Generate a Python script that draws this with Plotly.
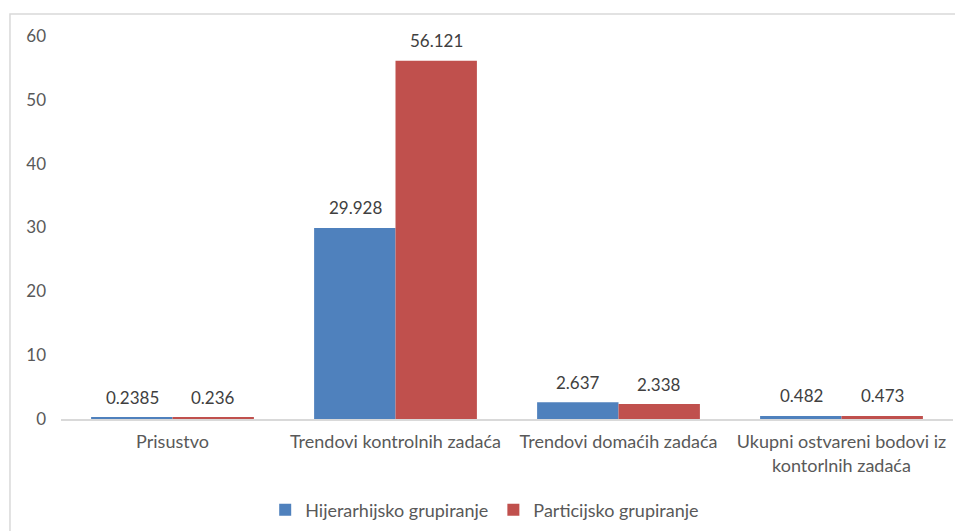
import plotly.graph_objects as go

# ── Data ───────────────────────────────────────────────────────────────────────
categories = [
    "Prisustvo",
    "Trendovi kontrolnih zadaća",
    "Trendovi domaćih zadaća",
    "Ukupni ostvareni bodovi iz<br>kontorlnih zadaća",
]
hijerarhijsko = [0.2385, 29.928, 2.637, 0.482]
particijsko = [0.236, 56.121, 2.338, 0.473]
series_names = ["Hijerarhijsko grupiranje", "Particijsko grupiranje"]
y_ticks = [0, 10, 20, 30, 40, 50, 60]

# ── Theme ──────────────────────────────────────────────────────────────────────
BLUE = "#4F81BD"
RED = "#C0504D"
TEXT = "#595959"
LABEL = "#404040"
FRAME = "#D9D9D9"
FONT = "Lato, Open Sans, sans-serif"

fig = go.Figure()
for i, (name, vals, col) in enumerate([(series_names[0], hijerarhijsko, BLUE),
                                       (series_names[1], particijsko, RED)]):
    fig.add_trace(go.Bar(
        x=categories, y=vals, name=name,
        marker=dict(color=col, line=dict(width=0)),
    ))
    # data labels, offset to sit over each bar of the group
    for cat, v in zip(categories, vals):
        fig.add_annotation(
            x=cat, y=v, xref="x", yref="y", text=str(v), showarrow=False,
            xshift=-40.5 if i == 0 else 40.5, yshift=20, yanchor="middle",
            font=dict(size=17, color=LABEL, family=FONT),
        )

# chart frame (light border as in the office export)
fig.add_shape(type="rect", xref="paper", yref="paper",
              x0=-0.0572, x1=1.3, y0=-1.0, y1=1.0574,
              line=dict(color=FRAME, width=1.5), fillcolor="rgba(0,0,0,0)", layer="below")

# page body adds an 8px offset, so size the figure to 955x523
fig.update_layout(
    width=955, height=523,
    margin=dict(l=53, r=10, t=28, b=112, autoexpand=False),
    paper_bgcolor="white", plot_bgcolor="white",
    font=dict(family=FONT, size=17, color=TEXT),
    barmode="group", bargap=0.27, bargroupgap=0,
    showlegend=True,
    legend=dict(orientation="h", x=0.475, xanchor="center", y=-0.238, yanchor="middle",
                font=dict(size=18, color=TEXT), bgcolor="rgba(0,0,0,0)",
                itemwidth=30, traceorder="normal"),
    xaxis=dict(showgrid=False, showline=True, linecolor=FRAME, linewidth=1.5,
               ticks="", tickfont=dict(size=18, color=TEXT), ticklabelstandoff=6,
               automargin=False),
    yaxis=dict(range=[0, 60], tickvals=y_ticks, showgrid=False, zeroline=False,
               showline=False, ticks="", tickfont=dict(size=17, color=TEXT),
               ticklabelstandoff=14, automargin=False),
)

fig.write_html("out.html")
